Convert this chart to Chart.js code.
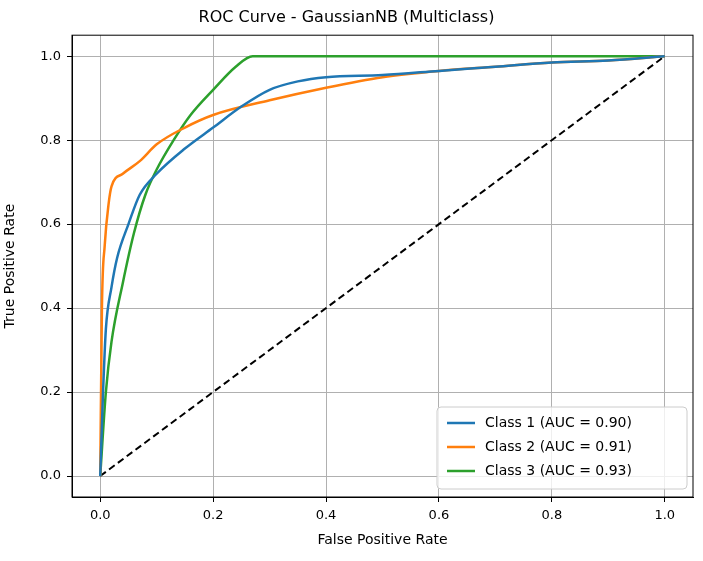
<!DOCTYPE html>
<html><head><meta charset="utf-8">
<script src="https://cdn.jsdelivr.net/npm/chart.js@4"></script>
<style>body{margin:0;background:#fff}#wrap{width:703px;height:561px}</style>
</head><body><div id="wrap"><canvas id="c"></canvas></div>
<script>
const tickValues = [0, 0.2, 0.4, 0.6, 0.8, 1.0];
const class1X = [0,0.005,0.01,0.02,0.03,0.05,0.07,0.1,0.15,0.2,0.25,0.3,0.35,0.4,0.5,0.6,0.7,0.8,0.9,1];
const class1Y = [0,0.2,0.35,0.45,0.52,0.6,0.67,0.72,0.78,0.83,0.88,0.92,0.94,0.95,0.955,0.965,0.975,0.985,0.99,1];
const class2X = [0,0.003,0.008,0.015,0.02,0.04,0.07,0.1,0.15,0.2,0.3,0.4,0.5,0.6,0.7,0.8,0.9,1];
const class2Y = [0,0.4,0.55,0.65,0.69,0.72,0.75,0.79,0.83,0.86,0.895,0.925,0.95,0.965,0.975,0.985,0.99,1];
const class3X = [0,0.01,0.02,0.04,0.06,0.08,0.1,0.13,0.16,0.2,0.24,0.27,1];
const class3Y = [0,0.2,0.32,0.46,0.58,0.67,0.73,0.8,0.86,0.92,0.975,1,1];
const labels = ["Class 1 (AUC = 0.90)", "Class 2 (AUC = 0.91)", "Class 3 (AUC = 0.93)"];
const colors = ["#1f77b4", "#ff7f0e", "#2ca02c"];

const pts = (xs, ys) => xs.map((x, i) => ({x: x, y: ys[i]}));
const font = "'DejaVu Sans', sans-serif";

const boxLegend = {
  id: "boxLegend",
  afterDraw(chart) {
    const ctx = chart.ctx, a = chart.chartArea;
    const w = 250, h = 82, x = a.right - w - 6, y = a.bottom - h - 8;
    ctx.save();
    ctx.fillStyle = "rgba(255,255,255,0.8)";
    ctx.strokeStyle = "#ccc";
    ctx.lineWidth = 1;
    ctx.beginPath(); ctx.roundRect(x, y, w, h, 4); ctx.fill(); ctx.stroke();
    ctx.font = "14px " + font;
    ctx.textBaseline = "middle";
    labels.forEach((t, i) => {
      const yy = y + 16 + i * 24;
      ctx.strokeStyle = colors[i]; ctx.lineWidth = 2.5;
      ctx.beginPath(); ctx.moveTo(x + 10, yy); ctx.lineTo(x + 38, yy); ctx.stroke();
      ctx.fillStyle = "#000"; ctx.fillText(t, x + 48, yy);
    });
    ctx.restore();
  }
};

const ds = [[class1X, class1Y], [class2X, class2Y], [class3X, class3Y]].map((d, i) => ({
  label: labels[i], data: pts(d[0], d[1]), borderColor: colors[i], borderWidth: 2.5,
  showLine: true, pointRadius: 0, cubicInterpolationMode: "monotone"
}));
ds.push({label: "chance", data: [{x: 0, y: 0}, {x: 1, y: 1}], borderColor: "#000", borderWidth: 2,
  borderDash: [7, 4], showLine: true, pointRadius: 0});

const axis = (title, isX) => ({
  type: "linear", min: -0.05, max: 1.05,
  afterBuildTicks: s => { s.ticks = tickValues.map(v => ({value: v})); },
  afterFit: s => { if (isX) s.height = 54; else s.width = 72; },
  ticks: {color: "#000", font: {family: font, size: 13}, callback: v => v.toFixed(1), padding: 6},
  grid: {color: "#b0b0b0", lineWidth: 1, tickLength: 5, tickColor: "#000"},
  border: {color: "#000", width: 1},
  title: {display: true, text: title, color: "#000", font: {family: font, size: 14}, padding: 2}
});

new Chart(document.getElementById("c"), {
  type: "scatter",
  data: {datasets: ds},
  options: {
    responsive: true, maintainAspectRatio: false, animation: false,
    layout: {padding: {left: 0, right: 10, top: 0, bottom: 10}},
    scales: {x: axis("False Positive Rate", true), y: axis("True Positive Rate", false)},
    plugins: {
      legend: {display: false}, tooltip: {enabled: false},
      title: {display: true, text: "ROC Curve - GaussianNB (Multiclass)", color: "#000",
        font: {family: font, size: 16, weight: "normal"}, padding: {top: 8, bottom: 8}}
    }
  },
  plugins: [boxLegend, {
    id: "frame",
    afterDraw(chart) {
      const c = chart.ctx, a = chart.chartArea;
      c.save(); c.strokeStyle = "#000"; c.lineWidth = 1;
      c.strokeRect(a.left, a.top, a.right - a.left, a.bottom - a.top); c.restore();
    }
  }]
});
</script></body></html>
